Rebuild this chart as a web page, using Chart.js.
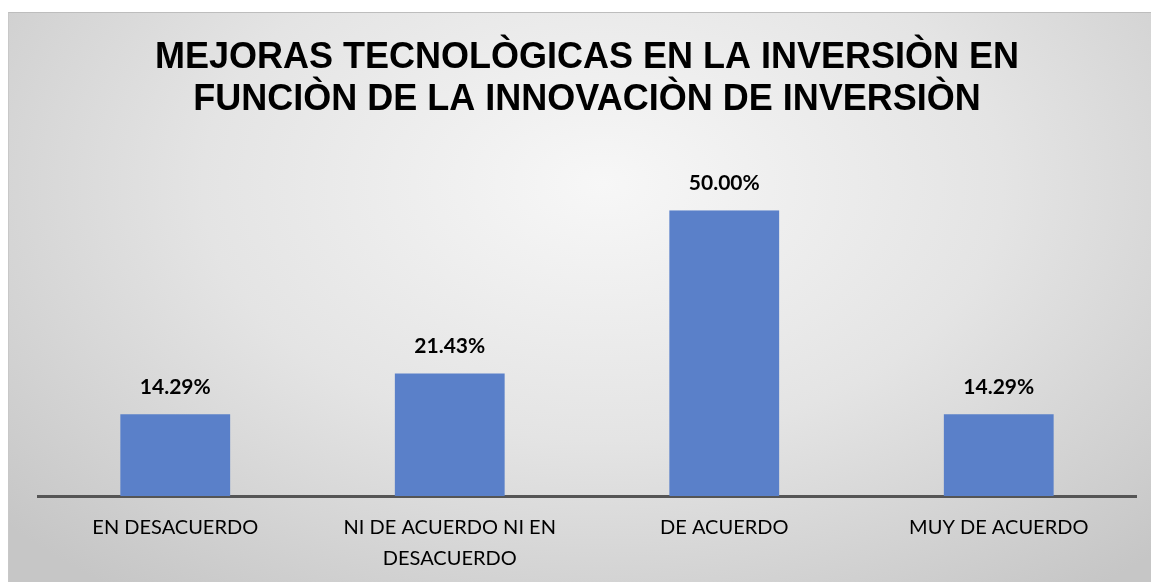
<!DOCTYPE html>
<html lang="es">
<head>
<meta charset="UTF-8">
<script src="https://cdn.jsdelivr.net/npm/chart.js"></script>
<title>Mejoras tecnológicas</title>
<style>
    body { margin: 0; background: #fff; }
    .chart-box {
        position: absolute;
        left: 8px;
        top: 12px;
        width: 1143px;
        height: 570px;
        border-top: 1px solid #bdbdbd;
        border-left: 1px solid #c8c8c8;
        box-sizing: border-box;
        background: radial-gradient(ellipse 70% 90% at 52% 30%, #f7f7f7 0%, #e4e4e4 50%, #c6c6c6 100%);
    }
</style>
</head>
<body>
<div class="chart-box">
    <canvas id="myChart"></canvas>
</div>

<script>
const categories = ['EN DESACUERDO', ['NI DE ACUERDO NI EN', 'DESACUERDO'], 'DE ACUERDO', 'MUY DE ACUERDO'];
const percentages = [14.29, 21.43, 50.00, 14.29];
const titleLines = ['MEJORAS TECNOLÒGICAS EN LA INVERSIÒN EN', 'FUNCIÒN DE LA INNOVACIÒN DE INVERSIÒN'];

// labels above each bar
const valueLabels = {
    id: 'valueLabels',
    afterDatasetsDraw(chart) {
        const ctx = chart.ctx;
        const meta = chart.getDatasetMeta(0);
        ctx.save();
        ctx.font = 'bold 21px Lato, "Liberation Sans", sans-serif';
        ctx.fillStyle = '#000';
        ctx.textAlign = 'center';
        ctx.textBaseline = 'middle';
        meta.data.forEach((bar, i) => {
            ctx.fillText(percentages[i].toFixed(2) + '%', bar.x, bar.y - 27);
        });
        ctx.restore();
    }
};

const ctx = document.getElementById('myChart').getContext('2d');
const chart = new Chart(ctx, {
    type: 'bar',
    data: {
        labels: categories,
        datasets: [{
            data: percentages,
            backgroundColor: '#5A80C9',
            categoryPercentage: 1,
            barPercentage: 0.4
        }]
    },
    options: {
        responsive: true,
        maintainAspectRatio: false,
        animation: false,
        layout: { padding: { left: 29, right: 15, top: 0, bottom: 0 } },
        plugins: {
            legend: { display: false },
            tooltip: { enabled: false },
            title: {
                display: true,
                text: titleLines,
                color: '#000',
                font: { family: '"Liberation Sans", Arial, sans-serif', size: 36, weight: 'bold', lineHeight: 1.17 },
                padding: { top: 24, bottom: 89 }
            }
        },
        scales: {
            x: {
                grid: { display: false },
                border: { display: true, color: '#555555', width: 3 },
                ticks: {
                    color: '#000',
                    padding: 8,
                    maxRotation: 0,
                    autoSkip: false,
                    font: { family: 'Lato, "Liberation Sans", sans-serif', size: 20, lineHeight: 1.55 }
                }
            },
            y: {
                display: false,
                min: 0,
                max: 50
            }
        }
    },
    plugins: [valueLabels]
});
</script>
</body>
</html>
